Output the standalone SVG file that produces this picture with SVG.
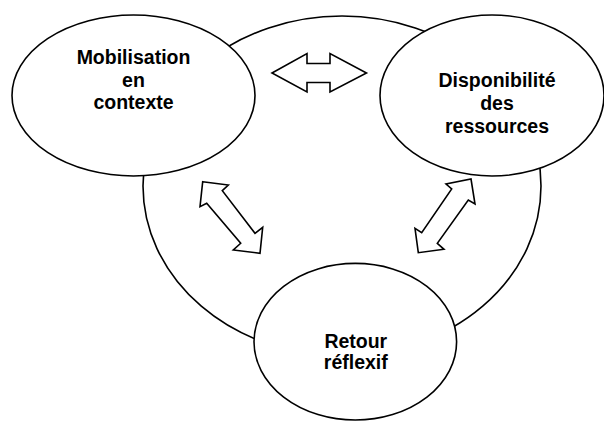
<svg xmlns="http://www.w3.org/2000/svg" width="604" height="421" viewBox="0 0 604 421">
<style>
.shape{fill:#fff;stroke:#000;stroke-width:1.6}
.arrow{fill:#fff;stroke:#000;stroke-width:1.6;stroke-linejoin:miter}
.lbl{font-family:"Liberation Sans",Arial,sans-serif;font-weight:bold;font-size:19.5px;fill:#000;text-anchor:middle}
</style>
<rect width="604" height="421" fill="#fff"/>
<g id="cycle">
<ellipse class="shape" cx="342" cy="186" rx="199" ry="170"/>
</g>
<g id="node-mobilisation">
<ellipse class="shape" cx="133.5" cy="95.5" rx="121.5" ry="80.5"/>
<text class="lbl" x="133.5" y="64.3">Mobilisation</text>
<text class="lbl" x="133.5" y="86.8">en</text>
<text class="lbl" x="133.5" y="109.3">contexte</text>
</g>
<g id="node-disponibilite">
<ellipse class="shape" cx="492" cy="95.5" rx="112" ry="80.5"/>
<text class="lbl" x="497" y="87.3">Disponibilité</text>
<text class="lbl" x="497" y="110">des</text>
<text class="lbl" x="497" y="133.3">ressources</text>
</g>
<g id="node-retour">
<ellipse class="shape" cx="355.3" cy="341.7" rx="101.3" ry="78.3"/>
<text class="lbl" x="355.8" y="347.7">Retour</text>
<text class="lbl" x="355.8" y="369">réflexif</text>
</g>
<g id="connectors">
<polygon class="arrow" points="272,73 307,53.5 307,63.5 330,63.5 330,53.5 366.5,73 330,92 330,82.5 307,82.5 307,92"/>
<polygon class="arrow" points="202.7,181.7 228.3,185 222.3,190.7 255,233.3 262.7,227.3 260,253.3 233.3,250 240.7,243.3 206.7,203.3 200,206.7"/>
<polygon class="arrow" points="471,179 475,204 468.3,200 437.3,243.3 444,249.3 418.3,252.7 415,228.3 421.7,232.7 451.7,189 446,184"/>
</g>
</svg>
